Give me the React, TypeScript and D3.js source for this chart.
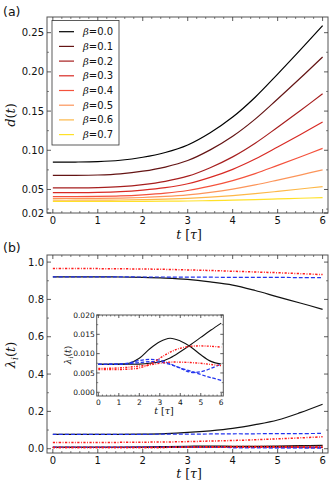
import React from 'react';
import * as d3 from 'd3';

// ---------- data ----------
const T = [0, 0.5, 1, 1.5, 2, 2.5, 3, 3.5, 4, 4.5, 5, 5.5, 6];

const BETA_LABELS = ['0.0', '0.1', '0.2', '0.3', '0.4', '0.5', '0.6', '0.7'];
const BETA_COLORS = ['#000000', '#641414', '#a61e1e', '#d82a24', '#f4523c', '#fc955a', '#fdb848', '#ffe128'];

const D_B00 = [0.085, 0.085, 0.0855, 0.0873, 0.0911, 0.0972, 0.1068, 0.1224, 0.1424, 0.1677, 0.1972, 0.2277, 0.259];
const D_B01 = [0.068, 0.068, 0.0685, 0.070, 0.0733, 0.0786, 0.0869, 0.1005, 0.1178, 0.1397, 0.1654, 0.1918, 0.219];
const D_B02 = [0.052, 0.052, 0.0524, 0.0536, 0.0562, 0.0604, 0.067, 0.0778, 0.0916, 0.109, 0.1294, 0.1504, 0.172];
const D_B03 = [0.046, 0.046, 0.0463, 0.0472, 0.0492, 0.0523, 0.0573, 0.0654, 0.0757, 0.0888, 0.1041, 0.1198, 0.136];
const D_B04 = [0.041, 0.041, 0.0412, 0.0418, 0.0432, 0.0453, 0.0487, 0.0542, 0.0613, 0.0702, 0.0807, 0.0914, 0.1025];
const D_B05 = [0.0385, 0.0385, 0.0386, 0.039, 0.0398, 0.0411, 0.0431, 0.0463, 0.0505, 0.0558, 0.062, 0.0684, 0.075];
const D_B06 = [0.0363, 0.0363, 0.0364, 0.0366, 0.037, 0.0377, 0.0387, 0.0402, 0.0422, 0.0447, 0.0476, 0.0506, 0.0537];
const D_B07 = [0.0347, 0.0347, 0.0347, 0.0348, 0.0349, 0.0351, 0.0353, 0.0358, 0.0364, 0.0371, 0.038, 0.0388, 0.0397];
const D_SERIES = [D_B00, D_B01, D_B02, D_B03, D_B04, D_B05, D_B06, D_B07];

// panel (b): large eigenvalues
const L_BLACK_TOP = [0.921, 0.921, 0.921, 0.920, 0.918, 0.914, 0.907, 0.894, 0.877, 0.848, 0.814, 0.781, 0.747];
const L_BLUE_TOP = [0.921, 0.921, 0.921, 0.921, 0.920, 0.920, 0.919, 0.919, 0.918, 0.918, 0.918, 0.917, 0.917];
const L_RED_TOP = [0.966, 0.966, 0.965, 0.964, 0.963, 0.961, 0.958, 0.955, 0.951, 0.947, 0.943, 0.938, 0.933];
const L_BLACK_MID = [0.077, 0.077, 0.077, 0.077, 0.078, 0.081, 0.087, 0.096, 0.109, 0.129, 0.154, 0.193, 0.238];
const L_BLUE_MID = [0.077, 0.077, 0.077, 0.077, 0.077, 0.078, 0.078, 0.079, 0.080, 0.080, 0.081, 0.081, 0.082];
const L_RED_MID = [0.033, 0.033, 0.033, 0.034, 0.035, 0.036, 0.038, 0.041, 0.044, 0.048, 0.053, 0.058, 0.064];

// small eigenvalues (inset)
const S_BLACK_1 = [0.00725, 0.00725, 0.00728, 0.0075, 0.0088, 0.0112, 0.0131, 0.0140, 0.0133, 0.0118, 0.0097, 0.0080, 0.0073];
const S_BLACK_2 = [0.00725, 0.00725, 0.00725, 0.00725, 0.0073, 0.0075, 0.0079, 0.0089, 0.0105, 0.0123, 0.0142, 0.0161, 0.0179];
const S_RED_1 = [0.0059, 0.0059, 0.0059, 0.0060, 0.0063, 0.0072, 0.0088, 0.0104, 0.0114, 0.0119, 0.0120, 0.0119, 0.0117];
const S_RED_2 = [0.0062, 0.0062, 0.0063, 0.0065, 0.0068, 0.0071, 0.0075, 0.0078, 0.0078, 0.0077, 0.0075, 0.0072, 0.0069];
const S_BLUE_1 = [0.00725, 0.00725, 0.0073, 0.0076, 0.0082, 0.0085, 0.0083, 0.0074, 0.0062, 0.0052, 0.0053, 0.0062, 0.0073];
const S_BLUE_2 = [0.00725, 0.00725, 0.0073, 0.0074, 0.0077, 0.0079, 0.0078, 0.0072, 0.0063, 0.0055, 0.0046, 0.0038, 0.0031];

const X_TICKS = [0, 1, 2, 3, 4, 5, 6];
const X_LABELS = ['0', '1', '2', '3', '4', '5', '6'];
const A_YTICKS = [0.02, 0.05, 0.10, 0.15, 0.20, 0.25];
const A_YLABELS = ['0.02', '0.05', '0.10', '0.15', '0.20', '0.25'];
const B_YTICKS = [0, 0.2, 0.4, 0.6, 0.8, 1.0];
const B_YLABELS = ['0.0', '0.2', '0.4', '0.6', '0.8', '1.0'];
const I_YTICKS = [0, 0.005, 0.010, 0.015, 0.020];
const I_YLABELS = ['0.000', '0.005', '0.010', '0.015', '0.020'];

// ---------- styles ----------
const SANS = '"DejaVu Sans", sans-serif';
const MATH = '"DejaVu Serif", serif';
const RED_DOT = '2.2 1.5 0.9 1.5';
const BLUE_DASH = '4 2';

type Sx = d3.ScaleLinear<number, number>;

function Frame(props: {
  sx: Sx; sy: Sx; xTicks: number[]; xLabels: string[]; xMinor: number[];
  yTicks: number[]; yLabels: string[]; yMinor: number[]; fs: number; maj: number; mnr: number;
  xLabelDy: number; yLabelDx: number;
}) {
  const { sx, sy, xTicks, xLabels, xMinor, yTicks, yLabels, yMinor, fs, maj, mnr, xLabelDy, yLabelDx } = props;
  const [x0, x1] = sx.range();
  const [y0, y1] = sy.range(); // y0 bottom, y1 top
  const stroke = '#333';
  return (
    <g>
      <rect x={x0} y={y1} width={x1 - x0} height={y0 - y1} fill="none" stroke="#555" strokeWidth={1} />
      {xTicks.map((t, i) => (
        <g key={'xt' + i}>
          <line x1={sx(t)} x2={sx(t)} y1={y0} y2={y0 - maj} stroke={stroke} strokeWidth={0.8} />
          <line x1={sx(t)} x2={sx(t)} y1={y1} y2={y1 + maj} stroke={stroke} strokeWidth={0.8} />
          <text x={sx(t)} y={y0 + xLabelDy} textAnchor="middle" fontSize={fs} fontFamily={SANS} fill="#111">{xLabels[i]}</text>
        </g>
      ))}
      {xMinor.map((t, i) => (
        <g key={'xm' + i}>
          <line x1={sx(t)} x2={sx(t)} y1={y0} y2={y0 - mnr} stroke={stroke} strokeWidth={0.6} />
          <line x1={sx(t)} x2={sx(t)} y1={y1} y2={y1 + mnr} stroke={stroke} strokeWidth={0.6} />
        </g>
      ))}
      {yTicks.map((v, i) => (
        <g key={'yt' + i}>
          <line x1={x0} x2={x0 + maj} y1={sy(v)} y2={sy(v)} stroke={stroke} strokeWidth={0.8} />
          <line x1={x1} x2={x1 - maj} y1={sy(v)} y2={sy(v)} stroke={stroke} strokeWidth={0.8} />
          <text x={x0 - yLabelDx} y={sy(v)} dy="0.36em" textAnchor="end" fontSize={fs} fontFamily={SANS} fill="#111">{yLabels[i]}</text>
        </g>
      ))}
      {yMinor.map((v, i) => (
        <g key={'ym' + i}>
          <line x1={x0} x2={x0 + mnr} y1={sy(v)} y2={sy(v)} stroke={stroke} strokeWidth={0.6} />
          <line x1={x1} x2={x1 - mnr} y1={sy(v)} y2={sy(v)} stroke={stroke} strokeWidth={0.6} />
        </g>
      ))}
    </g>
  );
}

function minorTicks(lo: number, hi: number, step: number, majors: number[]) {
  return d3.range(Math.round(lo / step), Math.round(hi / step) + 1)
    .map((k) => k * step)
    .filter((v) => !majors.some((m) => Math.abs(m - v) < step * 0.01));
}

function TLabel({ x, y, fs }: { x: number; y: number; fs: number }) {
  return (
    <text x={x} y={y} textAnchor="middle" fontSize={fs} fontFamily={MATH} fill="#111">
      <tspan fontStyle="italic">t</tspan>
      <tspan> [</tspan>
      <tspan fontStyle="italic">τ</tspan>
      <tspan>]</tspan>
    </text>
  );
}

function LambdaLabel({ x, y, fs }: { x: number; y: number; fs: number }) {
  return (
    <text transform={`translate(${x},${y}) rotate(-90)`} textAnchor="middle" fontSize={fs} fontFamily={MATH} fill="#111">
      <tspan fontStyle="italic">λ</tspan>
      <tspan fontStyle="italic" fontSize={fs * 0.7} dy={fs * 0.2}>i</tspan>
      <tspan dy={-fs * 0.2}>(</tspan>
      <tspan fontStyle="italic">t</tspan>
      <tspan>)</tspan>
    </text>
  );
}

export default function App() {
  // panel (a)
  const ax = d3.scaleLinear().domain([-0.13, 6.12]).range([47, 328]);
  const ay = d3.scaleLinear().domain([0.02, 0.27]).range([213, 17]);
  const aLine = d3.line<number>().x((_, i) => ax(T[i])).y((d) => ay(d)).curve(d3.curveCatmullRom);

  // panel (b)
  const bx = d3.scaleLinear().domain([-0.13, 6.12]).range([47, 328]);
  const by = d3.scaleLinear().domain([-0.023, 1.038]).range([453, 255]);
  const bLine = d3.line<number>().x((_, i) => bx(T[i])).y((d) => by(d)).curve(d3.curveCatmullRom);

  // inset
  const ix = d3.scaleLinear().domain([-0.08, 6.1]).range([96.7, 223.3]);
  const iy = d3.scaleLinear().domain([-0.00096, 0.020]).range([396, 315]);
  const iLine = d3.line<number>().x((_, i) => ix(T[i])).y((d) => iy(d)).curve(d3.curveCatmullRom);

  const xMinor = minorTicks(0, 6, 0.2, X_TICKS);

  const bSeries = [
    { d: L_RED_TOP, c: '#ff1a1a', dash: RED_DOT, w: 1.5 },
    { d: L_BLACK_TOP, c: '#111', dash: undefined, w: 1.2 },
    { d: L_BLUE_TOP, c: '#2233ee', dash: BLUE_DASH, w: 1.2 },
    { d: L_RED_MID, c: '#ff1a1a', dash: RED_DOT, w: 1.5 },
    { d: L_BLACK_MID, c: '#111', dash: undefined, w: 1.2 },
    { d: L_BLUE_MID, c: '#2233ee', dash: BLUE_DASH, w: 1.2 },
    { d: S_BLACK_1, c: '#111', dash: undefined, w: 1.2 },
    { d: S_BLACK_2, c: '#111', dash: undefined, w: 1.2 },
    { d: S_BLUE_1, c: '#2233ee', dash: BLUE_DASH, w: 1.2 },
    { d: S_BLUE_2, c: '#2233ee', dash: BLUE_DASH, w: 1.2 },
    { d: S_RED_1, c: '#ff1a1a', dash: RED_DOT, w: 1.5 },
    { d: S_RED_2, c: '#ff1a1a', dash: RED_DOT, w: 1.5 },
  ];
  const iSeries = [
    { d: S_BLACK_1, c: '#111', dash: undefined, w: 1.1 },
    { d: S_BLACK_2, c: '#111', dash: undefined, w: 1.1 },
    { d: S_BLUE_1, c: '#2233ee', dash: '3.5 1.8', w: 1.3 },
    { d: S_BLUE_2, c: '#2233ee', dash: '3.5 1.8', w: 1.3 },
    { d: S_RED_1, c: '#ff1a1a', dash: '2 1.3 0.8 1.3', w: 1.4 },
    { d: S_RED_2, c: '#ff1a1a', dash: '2 1.3 0.8 1.3', w: 1.4 },
  ];

  return (
    <svg width={332} height={486} style={{ position: 'absolute', left: 0, top: 0, background: '#fff' }}>
      <rect x={0} y={0} width={332} height={486} fill="#fff" />
      {/* ---------- panel (a) ---------- */}
      <text x={3} y={16} fontSize={12.5} fontFamily={SANS} fill="#111">(a)</text>
      <defs>
        <clipPath id="clipA"><rect x={47} y={17} width={281} height={196} /></clipPath>
        <clipPath id="clipB"><rect x={47} y={255} width={281} height={198} /></clipPath>
        <clipPath id="clipI"><rect x={96.7} y={315} width={126.6} height={81} /></clipPath>
      </defs>
      <g clipPath="url(#clipA)">
        {D_SERIES.map((s, i) => (
          <path key={i} d={aLine(s) || ''} fill="none" stroke={BETA_COLORS[i]} strokeWidth={1.2} />
        ))}
      </g>
      <Frame sx={ax} sy={ay} xTicks={X_TICKS} xLabels={X_LABELS} xMinor={xMinor}
        yTicks={A_YTICKS} yLabels={A_YLABELS} yMinor={minorTicks(0.025, 0.25, 0.025, A_YTICKS)}
        fs={10} maj={4} mnr={2} xLabelDy={11} yLabelDx={3} />
      {/* legend */}
      <rect x={52} y={20.5} width={67} height={124.5} fill="#fff" stroke="#333" strokeWidth={0.8} />
      {BETA_LABELS.map((b, i) => {
        const yy = 31.7 + i * 14.7;
        return (
          <g key={b}>
            <line x1={59} x2={74} y1={yy} y2={yy} stroke={BETA_COLORS[i]} strokeWidth={1.2} />
            <text x={83} y={yy} dy="0.35em" fontSize={10} fontFamily={SANS} fill="#111">
              <tspan fontFamily={MATH} fontStyle="italic">β</tspan>
              <tspan>=</tspan>
              <tspan>{b}</tspan>
            </text>
          </g>
        );
      })}
      <text transform="translate(15,115) rotate(-90)" textAnchor="middle" fontSize={13} fontFamily={MATH} fill="#111">
        <tspan fontStyle="italic">d</tspan>
        <tspan>(</tspan>
        <tspan fontStyle="italic">t</tspan>
        <tspan>)</tspan>
      </text>
      <TLabel x={189} y={239} fs={12.5} />

      {/* ---------- panel (b) ---------- */}
      <text x={3} y={252} fontSize={12.5} fontFamily={SANS} fill="#111">(b)</text>
      <g clipPath="url(#clipB)">
        {bSeries.map((s, i) => (
          <path key={i} d={bLine(s.d) || ''} fill="none" stroke={s.c} strokeWidth={s.w} strokeDasharray={s.dash} />
        ))}
      </g>
      <Frame sx={bx} sy={by} xTicks={X_TICKS} xLabels={X_LABELS} xMinor={xMinor}
        yTicks={B_YTICKS} yLabels={B_YLABELS} yMinor={minorTicks(0.1, 1.0, 0.1, B_YTICKS)}
        fs={10} maj={4} mnr={2} xLabelDy={10.5} yLabelDx={3} />
      <LambdaLabel x={15} y={355} fs={13} />
      <TLabel x={189} y={478} fs={12.5} />

      {/* ---------- inset ---------- */}
      <rect x={96.7} y={315} width={126.6} height={81} fill="#fff" />
      <g clipPath="url(#clipI)">
        {iSeries.map((s, i) => (
          <path key={i} d={iLine(s.d) || ''} fill="none" stroke={s.c} strokeWidth={s.w} strokeDasharray={s.dash} />
        ))}
      </g>
      <Frame sx={ix} sy={iy} xTicks={X_TICKS} xLabels={X_LABELS} xMinor={xMinor}
        yTicks={I_YTICKS} yLabels={I_YLABELS} yMinor={minorTicks(0.0025, 0.02, 0.0025, I_YTICKS)}
        fs={7.5} maj={3} mnr={1.5} xLabelDy={8.5} yLabelDx={2} />
      <LambdaLabel x={71} y={355} fs={9} />
      <TLabel x={164} y={414} fs={9.5} />
    </svg>
  );
}
